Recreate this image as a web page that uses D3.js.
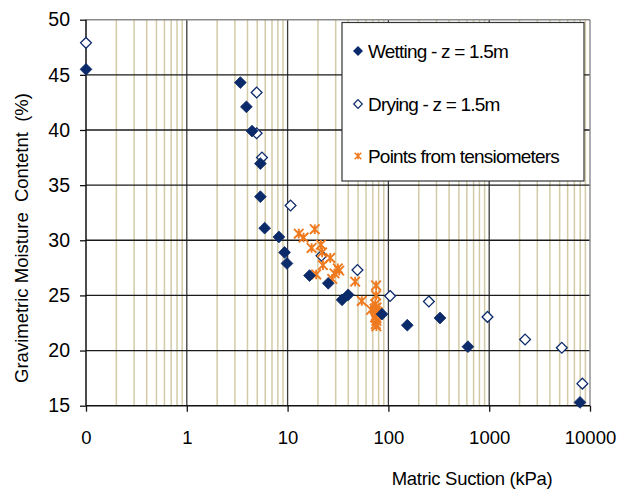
<!DOCTYPE html>
<html>
<head>
<meta charset="utf-8">
<script src="https://cdn.jsdelivr.net/npm/d3@7"></script>
<style>
  html, body { margin: 0; padding: 0; background: #fff; }
  svg { display: block; font-family: "Liberation Sans", Arial, sans-serif; }
</style>
</head>
<body>
<svg id="chart" width="618" height="491"></svg>
<script>
// ---- data ----
const xTickValues = [0.1, 1, 10, 100, 1000, 10000];
const xTickLabels = ["0", "1", "10", "100", "1000", "10000"];
const yTickValues = [15, 20, 25, 30, 35, 40, 45, 50];

const wettingSuction = [0.1, 3.4, 3.9, 4.44, 5.37, 5.37, 5.92, 8.2, 9.33, 9.85, 16.5, 25.3, 34.7, 39.9, 86.5, 154, 325, 615, 7960];
const wettingMoisture = [45.5, 44.3, 42.1, 39.9, 36.95, 33.95, 31.1, 30.3, 28.9, 27.9, 26.8, 26.1, 24.6, 25.05, 23.3, 22.3, 22.95, 20.35, 15.3];

const dryingSuction = [0.1, 4.93, 4.93, 5.57, 10.7, 21.7, 49.3, 104, 252, 962, 2270, 5250, 8400];
const dryingMoisture = [47.9, 43.4, 39.7, 37.5, 33.15, 28.6, 27.3, 24.95, 24.45, 23.05, 21.0, 20.25, 17.0];

const tensioSuction = [12.9, 14.4, 18.6, 17.3, 21.4, 22.0, 26.5, 22.4, 31.5, 32.5, 29.2, 19.2, 27.7, 46.8, 54.4, 75.5, 75.5, 67.4, 74, 76, 75, 77, 74, 76, 75, 73, 78, 76];
const tensioMoisture = [30.6, 30.25, 31.0, 29.3, 29.6, 28.9, 28.4, 27.75, 27.45, 27.25, 27.0, 26.9, 26.5, 26.25, 24.5, 25.9, 25.0, 23.7, 24.2, 23.9, 23.6, 23.3, 23.0, 22.7, 22.4, 23.8, 23.5, 22.2];

const xTitle = "Matric Suction (kPa)";
const yTitle = "Gravimetric Moisture\u00a0\u00a0Contetnt\u00a0\u00a0(%)";
const legendLabels = ["Wetting - z = 1.5m", "Drying - z = 1.5m", "Points from tensiometers"];

// ---- layout ----
const svg = d3.select("#chart");
const L = 86, R = 590, T = 19.7, B = 405.7;
const x = d3.scaleLog().domain([0.1, 10000]).range([L, R]);
const y = d3.scaleLinear().domain([15, 50]).range([B, T]);

const navy = "#0b2a6a";
const orange = "#ef7a1f";

// minor vertical gridlines
const minor = [];
for (let e = -1; e < 4; e++) for (let k = 2; k <= 9; k++) minor.push(k * Math.pow(10, e));
svg.append("g").selectAll("line").data(minor).join("line")
  .attr("x1", d => x(d)).attr("x2", d => x(d))
  .attr("y1", T).attr("y2", B)
  .attr("stroke", "#d3cba7").attr("stroke-width", 1.5);

// major vertical gridlines
svg.append("g").selectAll("line").data(xTickValues.slice(1, -1)).join("line")
  .attr("x1", d => x(d)).attr("x2", d => x(d))
  .attr("y1", T).attr("y2", B)
  .attr("stroke", "#3a3a3a").attr("stroke-width", 1.3);

// horizontal gridlines
svg.append("g").selectAll("line").data(yTickValues.slice(1, -1)).join("line")
  .attr("x1", L).attr("x2", R)
  .attr("y1", d => y(d)).attr("y2", d => y(d))
  .attr("stroke", "#1a1a1a").attr("stroke-width", 1.3);

// plot border top/right
svg.append("line").attr("x1", L).attr("x2", R).attr("y1", T).attr("y2", T).attr("stroke", "#8a8a8a").attr("stroke-width", 1.4);
svg.append("line").attr("x1", R).attr("x2", R).attr("y1", T).attr("y2", B).attr("stroke", "#8a8a8a").attr("stroke-width", 1.4);

// axes
const xAxis = d3.axisBottom(x).tickValues(xTickValues)
  .tickFormat((d, i) => xTickLabels[i]).tickSize(6).tickPadding(19);
const gx = svg.append("g").attr("transform", `translate(0,${B})`).call(xAxis);
gx.select(".domain").attr("stroke", "#111").attr("stroke-width", 1.5).attr("d", `M${L},0H${R}`);
gx.selectAll(".tick line").attr("stroke", "#111").attr("stroke-width", 1.3);
gx.selectAll(".tick text").attr("font-size", 18.5).attr("fill", "#000")
  .attr("font-family", "Liberation Sans, Arial, sans-serif");

const yAxis = d3.axisLeft(y).tickValues(yTickValues).tickSize(6).tickPadding(10);
const gy = svg.append("g").attr("transform", `translate(${L},0)`).call(yAxis);
gy.select(".domain").attr("stroke", "#111").attr("stroke-width", 1.5).attr("d", `M0,${B}V${T}`);
gy.selectAll(".tick line").attr("stroke", "#111").attr("stroke-width", 1.3);
gy.selectAll(".tick text").attr("font-size", 19.5).attr("fill", "#000")
  .attr("font-family", "Liberation Sans, Arial, sans-serif");

// axis titles
svg.append("text").attr("x", 472).attr("y", 485).attr("text-anchor", "middle")
  .attr("font-size", 18.5).attr("letter-spacing", -0.3).attr("fill", "#000").text(xTitle);
svg.append("text").attr("transform", "translate(28,238) rotate(-90)")
  .attr("text-anchor", "middle").attr("font-size", 18.5).attr("fill", "#000").text(yTitle);

// markers
const diamond = s => `M0,${-s}L${s},0L0,${s}L${-s},0Z`;
const star = s => `M${-s},${-s}L${s},${s}M${-s},${s}L${s},${-s}M0,${-s}L0,${s}`;

const wet = d3.zip(wettingSuction, wettingMoisture);
const dry = d3.zip(dryingSuction, dryingMoisture);
const ten = d3.zip(tensioSuction, tensioMoisture);

svg.append("g").selectAll("path").data(dry).join("path")
  .attr("transform", d => `translate(${x(d[0])},${y(d[1])})`)
  .attr("d", diamond(5.4)).attr("fill", "#fff").attr("stroke", navy).attr("stroke-width", 1.3);

svg.append("g").selectAll("path").data(ten).join("path")
  .attr("transform", d => `translate(${x(d[0])},${y(d[1])})`)
  .attr("d", star(4.8)).attr("fill", "none").attr("stroke", orange).attr("stroke-width", 1.9);

svg.append("g").selectAll("path").data(wet).join("path")
  .attr("transform", d => `translate(${x(d[0])},${y(d[1])})`)
  .attr("d", diamond(5.9)).attr("fill", navy).attr("stroke", navy).attr("stroke-width", 0.8);

// legend
const lg = svg.append("g");
lg.append("rect").attr("x", 342).attr("y", 22.5).attr("width", 242).attr("height", 158.5)
  .attr("fill", "#fff").attr("stroke", "#333").attr("stroke-width", 1.2);
const ly = [51, 104, 156];
lg.append("path").attr("transform", `translate(358,${ly[0]})`).attr("d", diamond(5)).attr("fill", navy);
lg.append("path").attr("transform", `translate(358,${ly[1]})`).attr("d", diamond(4.3)).attr("fill", "#fff").attr("stroke", navy).attr("stroke-width", 1.2);
lg.append("path").attr("transform", `translate(358,${ly[2]})`).attr("d", star(3.3)).attr("fill", "none").attr("stroke", orange).attr("stroke-width", 1.5);
lg.selectAll("text").data(legendLabels).join("text")
  .attr("x", 368).attr("y", (d, i) => ly[i] + 7)
  .attr("font-size", 19).attr("fill", "#000").attr("letter-spacing", -0.8).text(d => d);
</script>
</body>
</html>
